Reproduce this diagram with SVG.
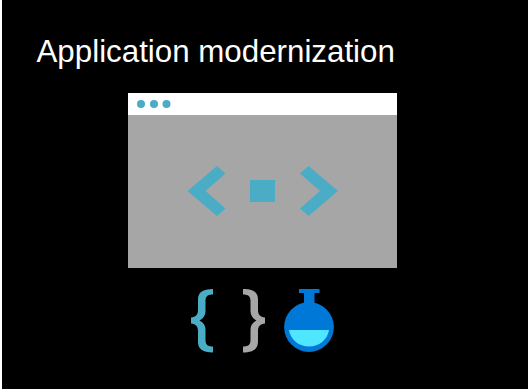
<svg xmlns="http://www.w3.org/2000/svg" width="528" height="390" viewBox="0 0 528 390">
<style>
.a{fill:#4bacc6}
.g{fill:#a6a6a6}
text{font-family:"Liberation Sans",Arial,sans-serif;fill:#fff}
</style>
<rect width="528" height="390" fill="#fff"/>
<rect x="2" y="0" width="526" height="389" fill="#000"/>
<text x="36.500" y="62" font-size="31.300">Application modernization</text>
<g id="window">
<rect x="128" y="93" width="269" height="22" fill="#fff"/>
<rect x="128" y="115" width="269" height="153" class="g"/>
<circle class="a" cx="141" cy="104" r="4"/>
<circle class="a" cx="154" cy="104" r="4"/>
<circle class="a" cx="166.500" cy="104" r="4"/>
<path class="a" d="M187.500 191L217 166L225.500 173.500L205.500 191L225.500 208.500L217 216Z"/>
<rect class="a" x="250" y="180" width="25" height="22"/>
<path class="a" d="M338 191L308.500 166L300 173.500L320 191L300 208.500L308.500 216Z"/>
</g>
<g id="brace-left">
<path class="a" d="M213 289V294.500C207.500 294.500 205.500 296.500 205.500 301V311C205.500 315 203.500 318.500 199.500 320.500C203.500 322.500 205.500 325.500 205.500 329.500V340C205.500 344.500 207.500 346.500 213 346.500V352.500C202.500 352.500 198 349 198 341.500V331C198 326.500 196 324 191 323.500V317.500C196 317 198 314.500 198 310V299.500C198 292.500 202.500 289 213 289Z"/>
</g>
<g id="brace-right">
<path class="g" d="M243 289V294.500C248.500 294.500 250.500 296.500 250.500 301V311C250.500 315 252.500 318.500 256.500 320.500C252.500 322.500 250.500 325.500 250.500 329.500V340C250.500 344.500 248.500 346.500 243 346.500V352.500C253.500 352.500 258 349 258 341.500V331C258 326.500 260 324 265 323.500V317.500C260 317 258 314.500 258 310V299.500C258 292.500 253.500 289 243 289Z"/>
</g>
<g id="flask">
<rect x="299" y="289" width="20.500" height="4" fill="#0078d7"/>
<path d="M304 293H314.500V306L318 310H300.500L304 306Z" fill="#0078d7"/>
<circle cx="309" cy="327" r="24.900" fill="#0078d7"/>
<path d="M289 330H329C327.500 340 319 346.500 309 346.500C299 346.500 290.500 340 289 330Z" fill="#50e6ff"/>
</g>
</svg>
